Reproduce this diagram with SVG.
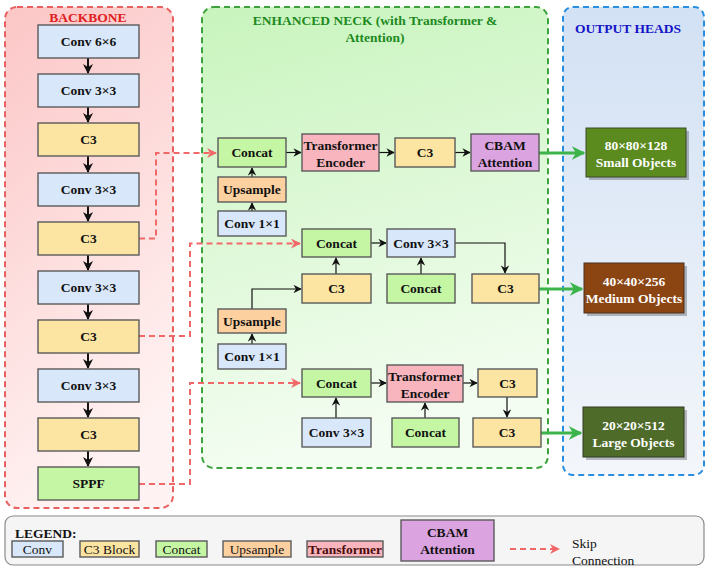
<svg xmlns="http://www.w3.org/2000/svg" width="708" height="569" viewBox="0 0 708 569" font-family="'Liberation Serif', 'DejaVu Serif', serif">
<defs>
<linearGradient id="gBack" x1="0" y1="0" x2="0.3" y2="1"><stop offset="0" stop-color="#fcc6c6"/><stop offset="1" stop-color="#fff2f2"/></linearGradient>
<linearGradient id="gNeck" x1="0" y1="0" x2="0.2" y2="1"><stop offset="0" stop-color="#c8f4bd"/><stop offset="1" stop-color="#f4fdf2"/></linearGradient>
<linearGradient id="gOut" x1="0" y1="0" x2="0" y2="1"><stop offset="0" stop-color="#d2e1f4"/><stop offset="1" stop-color="#f3f6fb"/></linearGradient>
<marker id="aBlk" viewBox="0 0 10 10" refX="9" refY="5" markerWidth="5" markerHeight="5" orient="auto" markerUnits="strokeWidth"><path d="M0,0 L10,5 L0,10 L3,5 z" fill="#111"/></marker>
<marker id="aSm" viewBox="0 0 10 10" refX="9" refY="5" markerWidth="7" markerHeight="7" orient="auto" markerUnits="strokeWidth"><path d="M0,0 L10,5 L0,10 L3,5 z" fill="#111"/></marker>
<marker id="aRed" viewBox="0 0 10 10" refX="9" refY="5" markerWidth="5" markerHeight="5" orient="auto" markerUnits="strokeWidth"><path d="M0,0 L10,5 L0,10 L3,5 z" fill="#f06868"/></marker>
<marker id="aGrn" viewBox="0 0 10 10" refX="9" refY="5" markerWidth="4.5" markerHeight="4.5" orient="auto" markerUnits="strokeWidth"><path d="M0,0 L10,5 L0,10 L3,5 z" fill="#3cb44b"/></marker>
<style>
text{font-family:'Liberation Serif','DejaVu Serif',serif;font-weight:bold;font-size:13.5px;fill:#111;text-anchor:middle;dominant-baseline:central}
.box{stroke:#5a5a5a;stroke-width:1.4}
.conv{fill:#d8e7fa}
.c3{fill:#fce4a2}
.cat{fill:#c5f6a4}
.up{fill:#fdd0a0}
.tr{fill:#f8b5bd}
.cbam{fill:#dba3df}
.head text{fill:#fff}
.bb{stroke:#111;stroke-width:2;fill:none;marker-end:url(#aBlk)}
.nk{stroke:#111;stroke-width:1.2;fill:none;marker-end:url(#aSm)}
.skip{stroke:#f06868;stroke-width:2;stroke-dasharray:6,4;fill:none}
.out{stroke:#3cb44b;stroke-width:3;fill:none;marker-end:url(#aGrn)}
.lg{font-weight:normal}
</style>
</defs>

<!-- containers -->
<g id="backbone-container">
<rect x="5" y="7" width="168" height="501" rx="12" fill="url(#gBack)" stroke="#e86060" stroke-width="2" stroke-dasharray="6,4"/>
<text x="88" y="17" style="fill:#e02020">BACKBONE</text>
</g>
<g id="neck-container">
<rect x="202" y="7" width="346" height="461" rx="12" fill="url(#gNeck)" stroke="#3ca23c" stroke-width="2" stroke-dasharray="6,4"/>
<text x="375" y="20" style="fill:#1e8a1e">ENHANCED NECK (with Transformer &amp;</text>
<text x="375" y="37" style="fill:#1e8a1e">Attention)</text>
</g>
<g id="output-container">
<rect x="563" y="7" width="141" height="468" rx="10" fill="url(#gOut)" stroke="#2a8ee0" stroke-width="2" stroke-dasharray="6,4"/>
<text x="628" y="28" style="fill:#1414c8">OUTPUT HEADS</text>
</g>

<!-- connectors -->
<g id="connectors">
<path class="bb" d="M88,58 V73"/>
<path class="bb" d="M88,107 V122"/>
<path class="bb" d="M88,156 V172"/>
<path class="bb" d="M88,206 V221"/>
<path class="bb" d="M88,255 V270"/>
<path class="bb" d="M88,304 V319"/>
<path class="bb" d="M88,353 V368"/>
<path class="bb" d="M88,402 V417"/>
<path class="bb" d="M88,451 V466"/>

<path class="skip" d="M139,238.5 H156 V153 H216" marker-end="url(#aRed)"/>
<path class="skip" d="M139,336 H190 V243.5 H300" marker-end="url(#aRed)"/>
<path class="skip" d="M139,484 H190 V383 H300" marker-end="url(#aRed)"/>

<path class="nk" d="M286,152.5 H301"/>
<path class="nk" d="M379,152.5 H394"/>
<path class="nk" d="M455,152.5 H470"/>
<path class="nk" d="M252,211 V203"/>
<path class="nk" d="M252,177 V168"/>

<path class="nk" d="M371,243 H386"/>
<path class="nk" d="M252,309 V289 H301"/>
<path class="nk" d="M336,274 V258"/>
<path class="nk" d="M421,274 V258"/>
<path class="nk" d="M455,243 H505 V273"/>
<path class="nk" d="M252,344 V334"/>

<path class="nk" d="M371,383 H386"/>
<path class="nk" d="M463,383 H477"/>
<path class="nk" d="M507,397 V417"/>
<path class="nk" d="M336,418 V398"/>
<path class="nk" d="M425,418 V403"/>

<path class="out" d="M539,153 H584"/>
<path class="out" d="M539,289 H582"/>
<path class="out" d="M541,433 H581"/>
</g>

<!-- backbone nodes -->
<g id="bb-conv66"><rect class="box conv" x="38" y="25" width="101" height="33"/><text x="88.5" y="41.5">Conv 6×6</text></g>
<g id="bb-conv1"><rect class="box conv" x="38" y="74" width="101" height="33"/><text x="88.5" y="90.5">Conv 3×3</text></g>
<g id="bb-c3a"><rect class="box c3" x="38" y="123" width="101" height="33"/><text x="88.5" y="139.5">C3</text></g>
<g id="bb-conv2"><rect class="box conv" x="38" y="173" width="101" height="33"/><text x="88.5" y="189.5">Conv 3×3</text></g>
<g id="bb-c3b"><rect class="box c3" x="38" y="222" width="101" height="33"/><text x="88.5" y="238.5">C3</text></g>
<g id="bb-conv3"><rect class="box conv" x="38" y="271" width="101" height="33"/><text x="88.5" y="287.5">Conv 3×3</text></g>
<g id="bb-c3c"><rect class="box c3" x="38" y="320" width="101" height="33"/><text x="88.5" y="336.5">C3</text></g>
<g id="bb-conv4"><rect class="box conv" x="38" y="369" width="101" height="33"/><text x="88.5" y="385.5">Conv 3×3</text></g>
<g id="bb-c3d"><rect class="box c3" x="38" y="418" width="101" height="33"/><text x="88.5" y="434.5">C3</text></g>
<g id="bb-sppf"><rect class="box cat" x="38" y="467" width="101" height="33"/><text x="88.5" y="483.5">SPPF</text></g>

<!-- neck row 1 -->
<g id="n1-concat"><rect class="box cat" x="218" y="138" width="68" height="29"/><text x="252" y="152.5">Concat</text></g>
<g id="n1-trans"><rect class="box tr" x="302" y="134" width="77" height="37"/><text x="340.5" y="145.5">Transformer</text><text x="340.5" y="162">Encoder</text></g>
<g id="n1-c3"><rect class="box c3" x="395" y="138" width="60" height="29"/><text x="425" y="152.5">C3</text></g>
<g id="n1-cbam"><rect class="box cbam" x="471" y="134" width="68" height="37"/><text x="505" y="145.5">CBAM</text><text x="505" y="162">Attention</text></g>
<g id="n1-up"><rect class="box up" x="218" y="177" width="68" height="25"/><text x="252" y="189.5">Upsample</text></g>
<g id="n1-conv"><rect class="box conv" x="218" y="211" width="68" height="25"/><text x="252" y="223.5">Conv 1×1</text></g>

<!-- neck row 2 -->
<g id="n2-concat"><rect class="box cat" x="302" y="229" width="69" height="28"/><text x="336.5" y="243">Concat</text></g>
<g id="n2-conv"><rect class="box conv" x="387" y="229" width="68" height="28"/><text x="421" y="243">Conv 3×3</text></g>
<g id="n2-c3a"><rect class="box c3" x="302" y="274" width="69" height="29"/><text x="336.5" y="288.5">C3</text></g>
<g id="n2-concat2"><rect class="box cat" x="387" y="274" width="68" height="29"/><text x="421" y="288.5">Concat</text></g>
<g id="n2-c3b"><rect class="box c3" x="472" y="274" width="67" height="29"/><text x="505.5" y="288.5">C3</text></g>
<g id="n2-up"><rect class="box up" x="218" y="309" width="68" height="24"/><text x="252" y="321">Upsample</text></g>
<g id="n2-conv1"><rect class="box conv" x="218" y="344" width="68" height="25"/><text x="252" y="356.5">Conv 1×1</text></g>

<!-- neck row 3 -->
<g id="n3-concat"><rect class="box cat" x="302" y="369" width="69" height="28"/><text x="336.5" y="383">Concat</text></g>
<g id="n3-trans"><rect class="box tr" x="387" y="365" width="76" height="37"/><text x="425" y="376.5">Transformer</text><text x="425" y="393">Encoder</text></g>
<g id="n3-c3a"><rect class="box c3" x="478" y="369" width="59" height="28"/><text x="507.5" y="383">C3</text></g>
<g id="n3-conv"><rect class="box conv" x="302" y="418" width="69" height="29"/><text x="336.5" y="432.5">Conv 3×3</text></g>
<g id="n3-concat2"><rect class="box cat" x="392" y="418" width="67" height="29"/><text x="425.5" y="432.5">Concat</text></g>
<g id="n3-c3b"><rect class="box c3" x="473" y="418" width="68" height="29"/><text x="507" y="432.5">C3</text></g>

<!-- output heads -->
<g id="head-small" class="head"><rect x="589" y="131" width="100" height="49" fill="#000" opacity="0.25"/><rect x="586" y="128" width="100" height="49" fill="#5b8a1e" stroke="#3a4a2a" stroke-width="1"/><text x="636" y="145">80×80×128</text><text x="636" y="162">Small Objects</text></g>
<g id="head-medium" class="head"><rect x="587" y="266" width="100" height="50" fill="#000" opacity="0.25"/><rect x="584" y="263" width="100" height="50" fill="#8b4513" stroke="#4a3020" stroke-width="1"/><text x="634" y="281">40×40×256</text><text x="634" y="298">Medium Objects</text></g>
<g id="head-large" class="head"><rect x="586" y="410" width="101" height="50" fill="#000" opacity="0.25"/><rect x="583" y="407" width="101" height="50" fill="#4e6b2a" stroke="#2e3a22" stroke-width="1"/><text x="633.5" y="425">20×20×512</text><text x="633.5" y="442">Large Objects</text></g>

<!-- legend -->
<g id="legend">
<rect x="5" y="516" width="699" height="49" rx="8" fill="#f5f5f5" stroke="#8a8a8a" stroke-width="1.2"/>
<text x="15" y="533" style="text-anchor:start">LEGEND:</text>
<rect class="box conv" x="12" y="541" width="51" height="16"/><text class="lg" x="37.5" y="549.5">Conv</text>
<rect class="box c3" x="80" y="541" width="59" height="16"/><text class="lg" x="109.5" y="549.5">C3 Block</text>
<rect class="box cat" x="156" y="541" width="51" height="16"/><text class="lg" x="181.5" y="549.5">Concat</text>
<rect class="box up" x="223" y="541" width="68" height="16"/><text class="lg" x="257" y="549.5">Upsample</text>
<rect class="box tr" x="307" y="541" width="76" height="16"/><text x="345" y="549.5" style="fill:#4a0c0c">Transformer</text>
<rect class="box cbam" x="401" y="520" width="93" height="41"/><text x="447.5" y="532">CBAM</text><text x="447.5" y="549">Attention</text>
<path class="skip" d="M510,549 H559" marker-end="url(#aRed)"/>
<text class="lg" x="572" y="543" style="text-anchor:start">Skip</text>
<text class="lg" x="572" y="560" style="text-anchor:start">Connection</text>
</g>
</svg>
